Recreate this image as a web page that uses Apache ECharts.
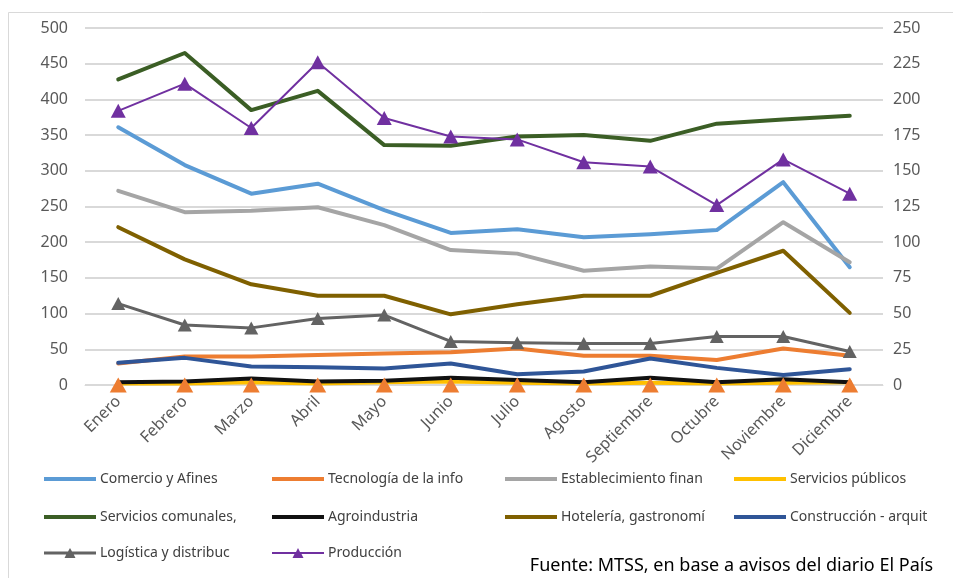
<!DOCTYPE html>
<html>
<head>
<meta charset="utf-8">
<script src="https://cdn.jsdelivr.net/npm/echarts@6/dist/echarts.min.js"></script>
<style>html,body{margin:0;padding:0;background:#fff;}#c{width:953px;height:578px;}</style>
</head>
<body>
<div id="c"></div>
<script>
const months = ['Enero','Febrero','Marzo','Abril','Mayo','Junio','Julio','Agosto','Septiembre','Octubre','Noviembre','Diciembre'];
const leftTicks = {min: 0, max: 500, interval: 50};
const rightTicks = {min: 0, max: 250, interval: 25};

const comercio = [361, 308, 268, 282, 245, 213, 218, 207, 211, 217, 284, 165];
const tecnologia = [30, 40, 40, 42, 44, 46, 51, 41, 41, 35, 51, 41];
const establecimiento = [272, 242, 244, 249, 224, 189, 184, 160, 166, 163, 228, 172];
const serviciosPublicos = [2, 2, 4, 2, 4, 5, 3, 2, 3, 2, 3, 4];
const serviciosComunales = [428, 465, 385, 412, 336, 335, 348, 350, 342, 366, 372, 377];
const agroindustria = [4, 5, 9, 5, 6, 10, 7, 4, 10, 4, 8, 4];
const hoteleria = [221, 176, 141, 125, 125, 99, 113, 125, 125, 157, 188, 101];
const construccion = [31, 38, 26, 25, 23, 30, 15, 19, 37, 24, 14, 22];
const logistica = [114, 84, 80, 93, 98, 61, 59, 58, 58, 68, 68, 47];
const produccion = [192, 211, 180, 226, 187, 174, 172, 156, 153, 126, 158, 134];
const otraSerie = [0, 0, 0, 0, 0, 0, 0, 0, 0, 0, 0, 0];

const names = ['Comercio y Afines','Tecnología de la info','Establecimiento finan','Servicios públicos',
  'Servicios comunales,','Agroindustria','Hotelería, gastronomí','Construcción - arquit',
  'Logística y distribuc','Producción'];
const colors = ['#5B9BD5','#ED7D31','#A5A5A5','#FFC000','#3B5E25','#111111','#7F6000','#2F5597','#636363','#7030A0'];

const FONT = 'Noto Sans';
function line(i, data, width, extra) {
  return Object.assign({
    name: names[i], type: 'line', data: data, symbol: 'none', showSymbol: false,
    lineStyle: {color: colors[i], width: width, cap: 'round', join: 'round'},
    itemStyle: {color: colors[i]}, z: 2, animation: false
  }, extra || {});
}

const series = [
  line(0, comercio, 4),
  line(1, tecnologia, 4),
  line(2, establecimiento, 4),
  line(3, serviciosPublicos, 4),
  line(4, serviciosComunales, 4),
  line(5, agroindustria, 4),
  line(6, hoteleria, 4),
  line(7, construccion, 4),
  line(8, logistica, 3, {symbol: 'triangle', showSymbol: true, symbolSize: [14, 13]}),
  line(9, produccion, 2, {yAxisIndex: 1, symbol: 'triangle', showSymbol: true, symbolSize: [15, 14]}),
  {name: 'Serie oculta', type: 'line', data: otraSerie, yAxisIndex: 1, symbol: 'triangle', symbolSize: [17, 15],
   lineStyle: {color: '#ED7D31', width: 0, opacity: 0}, itemStyle: {color: '#ED7D31'}, z: 5, animation: false}
];

const triIcon3 = 'path://M0,5.5 L24,5.5 L26,2 L28,5.5 L52,5.5 L52,8.5 L29.75,8.5 L31.5,12 L20.5,12 L22.25,8.5 L0,8.5 Z';
const triIcon2 = 'path://M0,6 L24,6 L26,2 L28,6 L52,6 L52,8 L29.5,8 L31.5,12 L20.5,12 L22.5,8 L0,8 Z';
const cols = [44, 272, 505, 734];
const rows = [478, 516, 552];
const legends = names.map((n, i) => {
  const tri = i >= 8;
  const h = tri ? 14 : 4;
  return {
    data: [{name: n, icon: tri ? (i === 8 ? triIcon3 : triIcon2) : 'rect'}],
    left: cols[i % 4], top: rows[Math.floor(i / 4)] - 6, padding: 0,
    itemWidth: 52, itemHeight: h, itemGap: 0, selectedMode: false,
    itemStyle: {color: colors[i], borderWidth: 0},
    lineStyle: {width: 0},
    textStyle: {fontFamily: FONT, fontSize: 14, color: '#404040', padding: [0, 0, 0, -1]}
  };
});

const chart = echarts.init(document.getElementById('c'), null, {renderer: 'canvas'});
chart.setOption({
  animation: false,
  backgroundColor: '#fff',
  grid: {left: 85, right: 70, top: 28, bottom: 193, containLabel: false},
  legend: legends,
  xAxis: {
    type: 'category', data: months, boundaryGap: true,
    axisLine: {show: true, lineStyle: {color: '#D9D9D9', width: 1}},
    axisTick: {show: false},
    axisLabel: {rotate: 45, fontFamily: FONT, fontSize: 16, color: '#595959', margin: 14, interval: 0}
  },
  yAxis: [
    {type: 'value', min: leftTicks.min, max: leftTicks.max, interval: leftTicks.interval,
     axisLine: {show: false}, axisTick: {show: false},
     axisLabel: {fontFamily: FONT, fontSize: 16, color: '#595959', margin: 17},
     splitLine: {lineStyle: {color: '#D9D9D9', width: 2}}},
    {type: 'value', min: rightTicks.min, max: rightTicks.max, interval: rightTicks.interval,
     axisLine: {show: false}, axisTick: {show: false},
     axisLabel: {fontFamily: FONT, fontSize: 16, color: '#595959', margin: 10},
     splitLine: {show: false}}
  ],
  graphic: [
    {type: 'rect', shape: {x: 8.5, y: 12.5, width: 960, height: 600}, style: {fill: 'none', stroke: '#D9D9D9', lineWidth: 1}, silent: true},
    {type: 'text', right: 20, top: 557, style: {text: 'Fuente: MTSS, en base a avisos del diario El País', fontFamily: FONT, fontSize: 18, fill: '#000'}}
  ],
  series: series
});
</script>
</body>
</html>
